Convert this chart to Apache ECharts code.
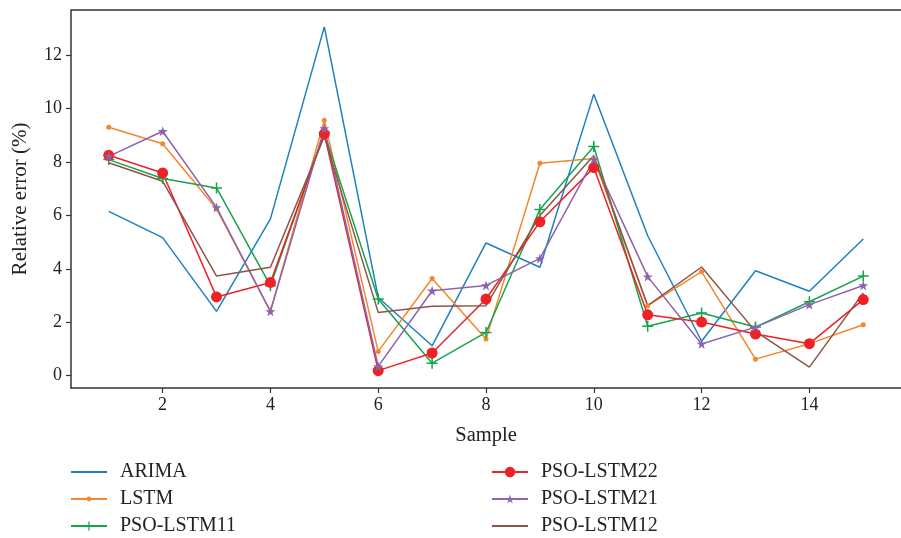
<!DOCTYPE html>
<html><head><meta charset="utf-8">
<script src="https://cdn.jsdelivr.net/npm/echarts@6/dist/echarts.min.js"></script>
<style>html,body{margin:0;padding:0;background:#fff}#c{width:901px;height:538px}</style>
</head><body><div id="c"></div>
<script>
const samples = [1,2,3,4,5,6,7,8,9,10,11,12,13,14,15];
const arima   = [6.15,5.17,2.41,5.87,13.06,2.93,1.12,4.97,4.06,10.54,5.24,1.29,3.93,3.16,5.12];
const lstm    = [9.30,8.68,6.24,2.41,9.56,0.91,3.64,1.37,7.95,8.13,2.62,3.90,0.62,1.20,1.91];
const pso11   = [8.09,7.38,7.03,3.37,9.10,2.87,0.47,1.62,6.22,8.58,1.85,2.35,1.82,2.77,3.73];
const pso22   = [8.25,7.59,2.95,3.49,9.05,0.19,0.85,2.87,5.76,7.79,2.28,2.01,1.56,1.20,2.85];
const pso21   = [8.21,9.15,6.30,2.41,9.26,0.35,3.18,3.38,4.39,8.09,3.71,1.19,1.82,2.66,3.38];
const pso12   = [7.97,7.28,3.73,4.06,8.96,2.37,2.60,2.62,6.00,8.24,2.62,4.07,1.66,0.32,3.10];
const seriesNames = ['ARIMA','LSTM','PSO-LSTM11','PSO-LSTM22','PSO-LSTM21','PSO-LSTM12'];
const yTicks = [0,2,4,6,8,10,12];
const xTicks = [2,4,6,8,10,12,14];

const FONT = '"Liberation Serif","DejaVu Serif",serif';
const plusPath = 'path://M4.3,0H5.7V4.3H10V5.7H5.7V10H4.3V5.7H0V4.3H4.3Z';
const starPath = 'path://M50,0L61.8,35.1L98.9,35.1L68.9,56.9L80.3,92.1L50,70.4L19.7,92.1L31.1,56.9L1.1,35.1L38.2,35.1Z';

function pairs(arr){ return arr.map((v,i)=>[samples[i], v]); }
function mk(name, data, color, symbol, size){
  return {
    name, type:'line', data: pairs(data),
    symbol: symbol, symbolSize: size, showSymbol: symbol !== 'none',
    lineStyle:{color, width:1.5}, itemStyle:{color},
    emphasis:{disabled:true}, animation:false
  };
}
// legend placement: [left, centerY, itemHeight, hideSymbol]
const legendPos = [[70,471,12,true],[70,498,6,false],[70,525,11,false],[491,471,13,false],[491,498,11,false],[491,525,12,true]];
const legends = seriesNames.map((n,i)=>{
  const p = legendPos[i];
  const item = p[3] ? {name:n, itemStyle:{opacity:0}} : {name:n};
  return {
    orient:'vertical', left:p[0], top:p[1]-9, padding:0,
    itemWidth:36, itemHeight:p[2], data:[item], selectedMode:false,
    textStyle:{fontFamily:FONT, fontSize:20, color:'#222', padding:[0,0,0,8]}
  };
});

const chart = echarts.init(document.getElementById('c'), null, {renderer:'canvas'});
chart.setOption({
  animation:false,
  textStyle:{fontFamily:FONT},
  grid:{left:71, right:-13, top:10, bottom:150, containLabel:false},
  xAxis:{
    type:'value', min:0.3, max:15.7,
    name:'Sample', nameLocation:'middle', nameGap:37,
    nameTextStyle:{fontFamily:FONT, fontSize:20.5, color:'#222'},
    axisLine:{show:true, onZero:false, lineStyle:{color:'#333', width:1.5}},
    axisTick:{show:true, length:5, customValues:xTicks, lineStyle:{color:'#333', width:1.2}},
    axisLabel:{customValues:xTicks, fontFamily:FONT, fontSize:18, color:'#222', margin:8},
    splitLine:{show:false}
  },
  yAxis:{
    type:'value', min:-0.46, max:13.69,
    name:'Relative error (%)', nameLocation:'middle', nameGap:40,
    nameTextStyle:{fontFamily:FONT, fontSize:21, color:'#222'},
    axisLine:{show:true, onZero:false, lineStyle:{color:'#333', width:1.5}},
    axisTick:{show:true, length:5, customValues:yTicks, lineStyle:{color:'#333', width:1.2}},
    axisLabel:{customValues:yTicks, fontFamily:FONT, fontSize:18, color:'#222', margin:9},
    splitLine:{show:false}
  },
  graphic:[{type:'line', shape:{x1:71,y1:10,x2:901,y2:10}, style:{stroke:'#333', lineWidth:1.5}, silent:true}],
  legend: legends,
  series:[
    mk('ARIMA', arima, '#1f80c0', 'none', 0),
    mk('LSTM', lstm, '#f5862b', 'circle', 5),
    mk('PSO-LSTM11', pso11, '#14a54c', plusPath, 11),
    mk('PSO-LSTM22', pso22, '#ec2227', 'circle', 11),
    mk('PSO-LSTM21', pso21, '#8c63ad', starPath, 10),
    mk('PSO-LSTM12', pso12, '#8b5548', 'none', 0)
  ]
});
</script></body></html>
